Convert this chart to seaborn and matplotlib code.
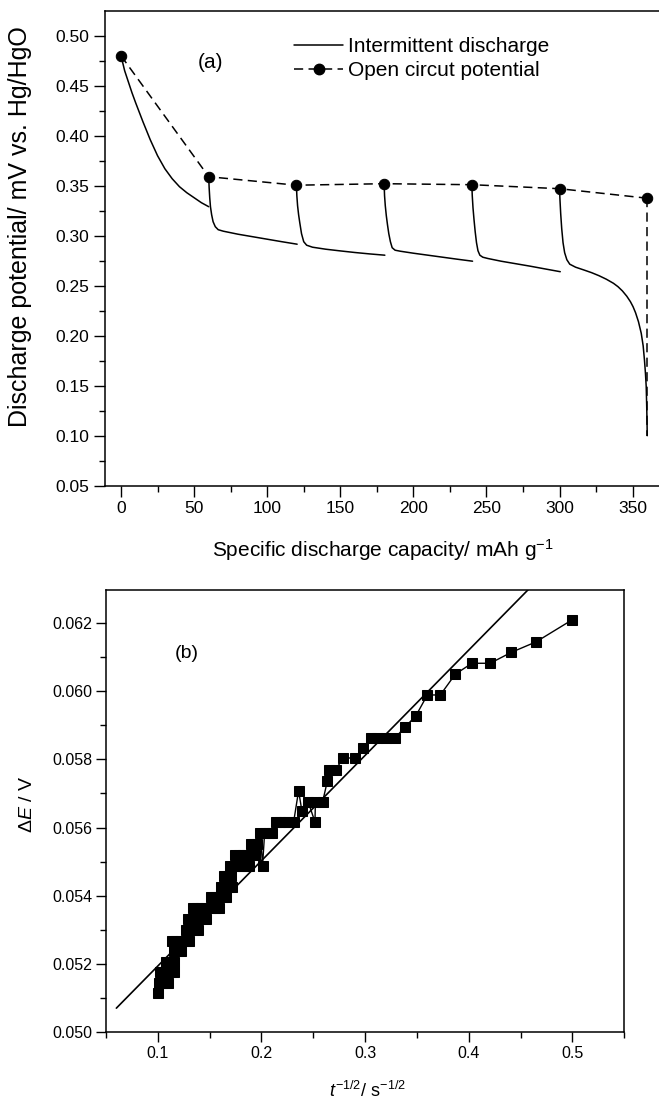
# 방전 곡선 (a) 와 ΔE vs t^-1/2 (b) 재현
import pandas as pd
import matplotlib
matplotlib.use('Agg')
import matplotlib.pyplot as plt
from matplotlib.lines import Line2D
from matplotlib.ticker import MultipleLocator, FormatStrFormatter
import seaborn as sns

sns.set_theme(style='ticks', rc={'axes.edgecolor': 'black', 'xtick.color': 'black',
                                 'ytick.color': 'black', 'text.color': 'black',
                                 'axes.labelcolor': 'black', 'axes.linewidth': 1.1})
plt.rcParams['font.family'] = ['Liberation Sans', 'DejaVu Sans']
plt.rcParams['mathtext.fontset'] = 'custom'
plt.rcParams['mathtext.rm'] = 'Liberation Sans'
plt.rcParams['mathtext.it'] = 'Liberation Sans:italic'
plt.rcParams['axes.unicode_minus'] = False

# 1. 데이터
# (a) intermittent discharge - 구간별
seg1_cap = [0, 1, 2.5, 5, 7.5, 10, 15, 20, 25, 30, 35, 40, 45, 50, 55, 60]
seg1_E = [0.480, 0.474, 0.465, 0.454, 0.443, 0.433, 0.414, 0.396, 0.380, 0.367,
          0.357, 0.349, 0.343, 0.338, 0.333, 0.329]
seg2_cap = [60, 60.3, 60.7, 61.2, 62, 63, 64.5, 66.5, 70, 80, 90, 100, 110, 120.5]
seg2_E = [0.359, 0.348, 0.338, 0.329, 0.321, 0.314, 0.309, 0.306, 0.3045, 0.3015,
          0.299, 0.2965, 0.294, 0.2915]
seg3_cap = [120, 120.3, 120.8, 121.5, 122.3, 123.5, 125, 127, 131, 140, 150, 160, 170, 180.5]
seg3_E = [0.3507, 0.340, 0.330, 0.321, 0.313, 0.302, 0.294, 0.2905, 0.2885, 0.2865,
          0.2848, 0.2832, 0.2818, 0.2805]
seg4_cap = [180, 180.3, 180.8, 181.5, 182.3, 183.2, 184.3, 185.5, 187.5, 191, 200, 210,
            220, 230, 240.5]
seg4_E = [0.352, 0.340, 0.330, 0.320, 0.311, 0.302, 0.294, 0.288, 0.2855, 0.2845,
          0.2825, 0.2805, 0.2785, 0.2765, 0.2745]
seg5_cap = [240, 240.3, 240.8, 241.5, 242.3, 243.2, 244.2, 245.5, 247.5, 251, 260, 270,
            280, 290, 300.5]
seg5_E = [0.3514, 0.340, 0.328, 0.316, 0.304, 0.293, 0.285, 0.2805, 0.2785, 0.2772,
          0.2745, 0.2720, 0.2695, 0.2668, 0.2640]
seg6_cap = [300, 300.3, 300.8, 301.5, 302.4, 303.5, 305, 307, 311, 316.7, 322, 327, 332,
            336.9, 340, 343, 346, 348.5, 350.3, 352, 354, 355.9, 357.2, 358.1, 358.8,
            359.3, 359.6, 359.85, 360]
seg6_E = [0.3474, 0.336, 0.322, 0.307, 0.293, 0.283, 0.276, 0.2715, 0.2685, 0.2657,
          0.2630, 0.2600, 0.2565, 0.2524, 0.2490, 0.2448, 0.2395, 0.2340, 0.2290, 0.2230,
          0.2140, 0.2024, 0.1900, 0.1757, 0.1620, 0.1490, 0.1320, 0.1150, 0.1000]

# (a) open circuit potential
ocp_cap = [0, 60, 120, 180, 240, 300, 360]
ocp_E = [0.480, 0.359, 0.3505, 0.352, 0.351, 0.347, 0.3375]
ocp_end_cap = [360, 360]
ocp_end_E = [0.3375, 0.100]

# (b) ΔE vs t^-1/2
dE_x = [0.100, 0.101, 0.102, 0.104, 0.105, 0.107, 0.108, 0.109, 0.110, 0.112, 0.113,
        0.114, 0.116, 0.116, 0.116, 0.118, 0.119, 0.122, 0.122, 0.126, 0.127, 0.129,
        0.130, 0.131, 0.1335, 0.133, 0.135, 0.137, 0.138, 0.139, 0.141, 0.142, 0.146,
        0.146, 0.150, 0.151, 0.155, 0.155, 0.159, 0.159, 0.161, 0.163, 0.164, 0.165,
        0.166, 0.168, 0.169, 0.170, 0.171, 0.172, 0.174, 0.174, 0.178, 0.178, 0.182,
        0.182, 0.186, 0.186, 0.188, 0.190, 0.190, 0.193, 0.194, 0.196, 0.199, 0.201,
        0.203, 0.207, 0.210, 0.214, 0.218, 0.222, 0.226, 0.231, 0.2358, 0.239, 0.245,
        0.2516, 0.252, 0.259, 0.2636, 0.2655, 0.2715, 0.279, 0.2905, 0.2975, 0.3054,
        0.3118, 0.3197, 0.3289, 0.3387, 0.3488, 0.360, 0.3725, 0.387, 0.403, 0.4206,
        0.441, 0.465, 0.500]
dE_y = [0.05114, 0.05145, 0.05175, 0.05145, 0.05175, 0.05145, 0.05206, 0.05175, 0.05145,
        0.05206, 0.05175, 0.05268, 0.05175, 0.05206, 0.05238, 0.05268, 0.05238, 0.05238,
        0.05268, 0.05268, 0.05299, 0.05331, 0.05268, 0.05299, 0.05363, 0.05331, 0.05299,
        0.05331, 0.05363, 0.05299, 0.05331, 0.05363, 0.05331, 0.05363, 0.05363, 0.05395,
        0.05363, 0.05395, 0.05363, 0.05395, 0.05426, 0.05395, 0.05458, 0.05426, 0.05395,
        0.05458, 0.05426, 0.05488, 0.05458, 0.05426, 0.05488, 0.05519, 0.05488, 0.05519,
        0.05488, 0.05519, 0.05488, 0.05519, 0.05488, 0.05519, 0.05552, 0.05552, 0.05519,
        0.05552, 0.05583, 0.05488, 0.05583, 0.05583, 0.05583, 0.05616, 0.05616, 0.05616,
        0.05616, 0.05616, 0.05708, 0.05648, 0.05676, 0.05616, 0.05676, 0.05676, 0.05737,
        0.05770, 0.05770, 0.05804, 0.05804, 0.05832, 0.05863, 0.05863, 0.05863, 0.05863,
        0.05896, 0.05927, 0.05989, 0.05989, 0.06050, 0.06082, 0.06082, 0.06114, 0.06145,
        0.06210]
# 직선 피팅 (양 끝점)
fit_x = [0.06, 0.50]
fit_y = [0.0507, 0.0643]

# 2. 데이터프레임 구성
segments = [(seg1_cap, seg1_E), (seg2_cap, seg2_E), (seg3_cap, seg3_E),
            (seg4_cap, seg4_E), (seg5_cap, seg5_E), (seg6_cap, seg6_E)]
df_dis = pd.concat([pd.DataFrame({'cap': c, 'E': e, 'seg': i})
                    for i, (c, e) in enumerate(segments)], ignore_index=True)
df_dE = pd.DataFrame({'x': dE_x, 'y': dE_y})

# 3. 그림
fig = plt.figure(figsize=(6.59, 11.01), dpi=100)
ax1 = fig.add_axes([104.7 / 659, (1101 - 485.7) / 1101, (662 - 104.7) / 659, 474.7 / 1101])
ax2 = fig.add_axes([106 / 659, (1101 - 1032) / 1101, (624.3 - 106) / 659, 442 / 1101])

dash = (0, (6, 3.5))

# (a)
sns.lineplot(data=df_dis, x='cap', y='E', units='seg', estimator=None, sort=False,
             color='black', lw=1.1, ax=ax1)
sns.lineplot(x=ocp_cap, y=ocp_E, estimator=None, sort=False, color='black', lw=1.1,
             linestyle=dash, marker='o', markersize=7.5, markeredgecolor='black', ax=ax1)
sns.lineplot(x=ocp_end_cap, y=ocp_end_E, estimator=None, sort=False, color='black',
             lw=1.1, linestyle=dash, ax=ax1)

ax1.set_xlim(-11.15, 370.1)
ax1.set_ylim(0.05, 0.5247)
ax1.xaxis.set_major_locator(MultipleLocator(50))
ax1.xaxis.set_minor_locator(MultipleLocator(25))
ax1.yaxis.set_major_locator(MultipleLocator(0.05))
ax1.yaxis.set_minor_locator(MultipleLocator(0.025))
ax1.yaxis.set_major_formatter(FormatStrFormatter('%.2f'))
ax1.tick_params(which='major', direction='out', length=8, width=1, labelsize=12.5,
                pad=3, top=False, right=False)
ax1.tick_params(which='minor', direction='out', length=4.5, width=1, top=False, right=False)
ax1.set_xlabel('Specific discharge capacity/ mAh g$^{-1}$', fontsize=15)
ax1.xaxis.set_label_coords(0.4985, -0.108)
ax1.set_ylabel('Discharge potential/ mV vs. Hg/HgO', fontsize=18)
ax1.yaxis.set_label_coords(-0.13, 0.545)
ax1.text(60.9, 0.4737, '(a)', fontsize=15, ha='center', va='center')

handles = [Line2D([], [], color='black', lw=1.1),
           Line2D([], [], color='black', lw=1.1, linestyle=dash, marker='o', markersize=7.5)]
ax1.legend(handles, ['Intermittent discharge', 'Open circut potential'], loc='upper left',
           bbox_to_anchor=(0.34, 0.945), frameon=False, fontsize=15, handlelength=2.35,
           handletextpad=0.25, borderpad=0, borderaxespad=0, labelspacing=0.25)

# (b)
sns.lineplot(data=df_dE, x='x', y='y', estimator=None, sort=False, color='black', lw=1,
             marker='s', markersize=6.8, markeredgecolor='black', ax=ax2)
sns.lineplot(x=fit_x, y=fit_y, estimator=None, sort=False, color='black', lw=1.2, ax=ax2)

ax2.set_xlim(0.05, 0.55)
ax2.set_ylim(0.050, 0.06297)
ax2.xaxis.set_major_locator(MultipleLocator(0.1))
ax2.xaxis.set_minor_locator(MultipleLocator(0.05))
ax2.yaxis.set_major_locator(MultipleLocator(0.002))
ax2.yaxis.set_minor_locator(MultipleLocator(0.001))
ax2.xaxis.set_major_formatter(FormatStrFormatter('%.1f'))
ax2.yaxis.set_major_formatter(FormatStrFormatter('%.3f'))
ax2.tick_params(which='major', direction='out', length=7, width=1, labelsize=11.5,
                pad=3, top=False, right=False)
ax2.tick_params(which='minor', direction='out', length=4, width=1, top=False, right=False)
ax2.set_xlabel(r'$t^{-1/2}$/ s$^{-1/2}$', fontsize=13)
ax2.xaxis.set_label_coords(0.5036, -0.111)
ax2.set_ylabel(r'$\mathit{\Delta E}$ / V', fontsize=14)
ax2.yaxis.set_label_coords(-0.135, 0.515)
ax2.text(0.1281, 0.06112, '(b)', fontsize=14, ha='center', va='center')

fig.savefig('out.png', dpi=100)
